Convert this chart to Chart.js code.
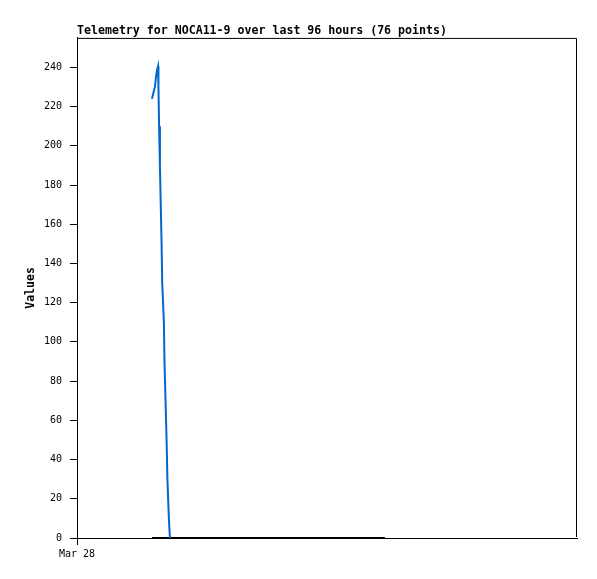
<!DOCTYPE html>
<html>
<head>
<meta charset="utf-8">
<title>Telemetry for NOCA11-9</title>
<script src="https://cdn.jsdelivr.net/npm/chart.js@4.4.1/dist/chart.umd.min.js"></script>
<style>
  html, body { margin: 0; padding: 0; background: #fff; }
  canvas { display: block; }
</style>
</head>
<body>
<canvas id="chart" width="597" height="579"></canvas>
<script>
// hours since Mar 28 00:00
const chartTitle = 'Telemetry for NOCA11-9 over last 96 hours (76 points)';
const xTickLabels = ['Mar 28'];
const yTicks = [0, 20, 40, 60, 80, 100, 120, 140, 160, 180, 200, 220, 240];

const blueHours = [3.60, 3.67, 3.74, 3.79, 3.84, 3.89, 3.91, 3.94, 3.98, 4.02, 4.06, 4.09,
                   4.17, 4.20, 4.25, 4.30, 4.34, 4.41, 4.46];
const blueValues = [224, 227, 230, 235, 238.5, 240.5, 230, 210, 190, 170, 150, 130,
                    110, 90, 70, 50, 30, 10, 0];

const blackHours = [3.60, 14.78];
const blackValues = [0, 0];

const toPoints = (xs, ys) => xs.map((x, i) => ({ x: x, y: ys[i] }));

const monoFont = "'DejaVu Sans Mono', 'Liberation Mono', monospace";

// top and right edges of the plot box (left/bottom are the axes)
const frame = {
  id: 'frame',
  beforeDatasetsDraw(chart) {
    const a = chart.chartArea;
    const ctx = chart.ctx;
    ctx.save();
    ctx.strokeStyle = '#000';
    ctx.lineWidth = 1;
    ctx.beginPath();
    ctx.moveTo(a.left, a.top + 0.5);
    ctx.lineTo(a.right - 0.5, a.top + 0.5);
    ctx.lineTo(a.right - 0.5, a.bottom - 1);
    ctx.stroke();
    ctx.restore();
  }
};

new Chart(document.getElementById('chart'), {
  type: 'line',
  data: {
    datasets: [
      {
        data: toPoints(blueHours, blueValues),
        borderColor: '#0066cc',
        borderWidth: 2,
        pointRadius: 0,
        tension: 0
      },
      {
        data: toPoints(blackHours, blackValues),
        borderColor: '#000',
        borderWidth: 2,
        pointRadius: 0,
        tension: 0
      }
    ]
  },
  options: {
    responsive: false,
    animation: false,
    layout: { padding: { left: 0, right: 20, top: 0, bottom: 0 } },
    plugins: {
      legend: { display: false },
      tooltip: { enabled: false },
      title: {
        display: true,
        text: chartTitle,
        align: 'start',
        fullSize: false,
        color: '#000',
        font: { family: monoFont, size: 11.6, weight: 'bold' },
        padding: { top: 24, bottom: 0 }
      }
    },
    scales: {
      x: {
        type: 'linear',
        min: 0,
        max: 24,
        grid: { drawOnChartArea: false, drawTicks: true, tickLength: 7, color: '#000' },
        border: { display: true, color: '#000' },
        afterBuildTicks: (scale) => { scale.ticks = [{ value: 0 }]; },
        afterFit: (scale) => { scale.height = 41; },
        ticks: {
          color: '#000',
          padding: 3,
          maxRotation: 0,
          font: { family: monoFont, size: 10 },
          callback: (v, i) => xTickLabels[i]
        }
      },
      y: {
        min: 0,
        max: 255,
        grid: { drawOnChartArea: false, drawTicks: true, tickLength: 7, color: '#000' },
        border: { display: true, color: '#000' },
        afterBuildTicks: (scale) => { scale.ticks = yTicks.map(v => ({ value: v })); },
        afterFit: (scale) => { scale.width = 77; },
        ticks: {
          color: '#000',
          padding: 8,
          font: { family: monoFont, size: 10 }
        },
        title: {
          display: true,
          text: 'Values',
          color: '#000',
          font: { family: monoFont, size: 11.5, weight: 'bold' },
          padding: { top: 24, bottom: 0 }
        }
      }
    }
  },
  plugins: [frame]
});
</script>
</body>
</html>
